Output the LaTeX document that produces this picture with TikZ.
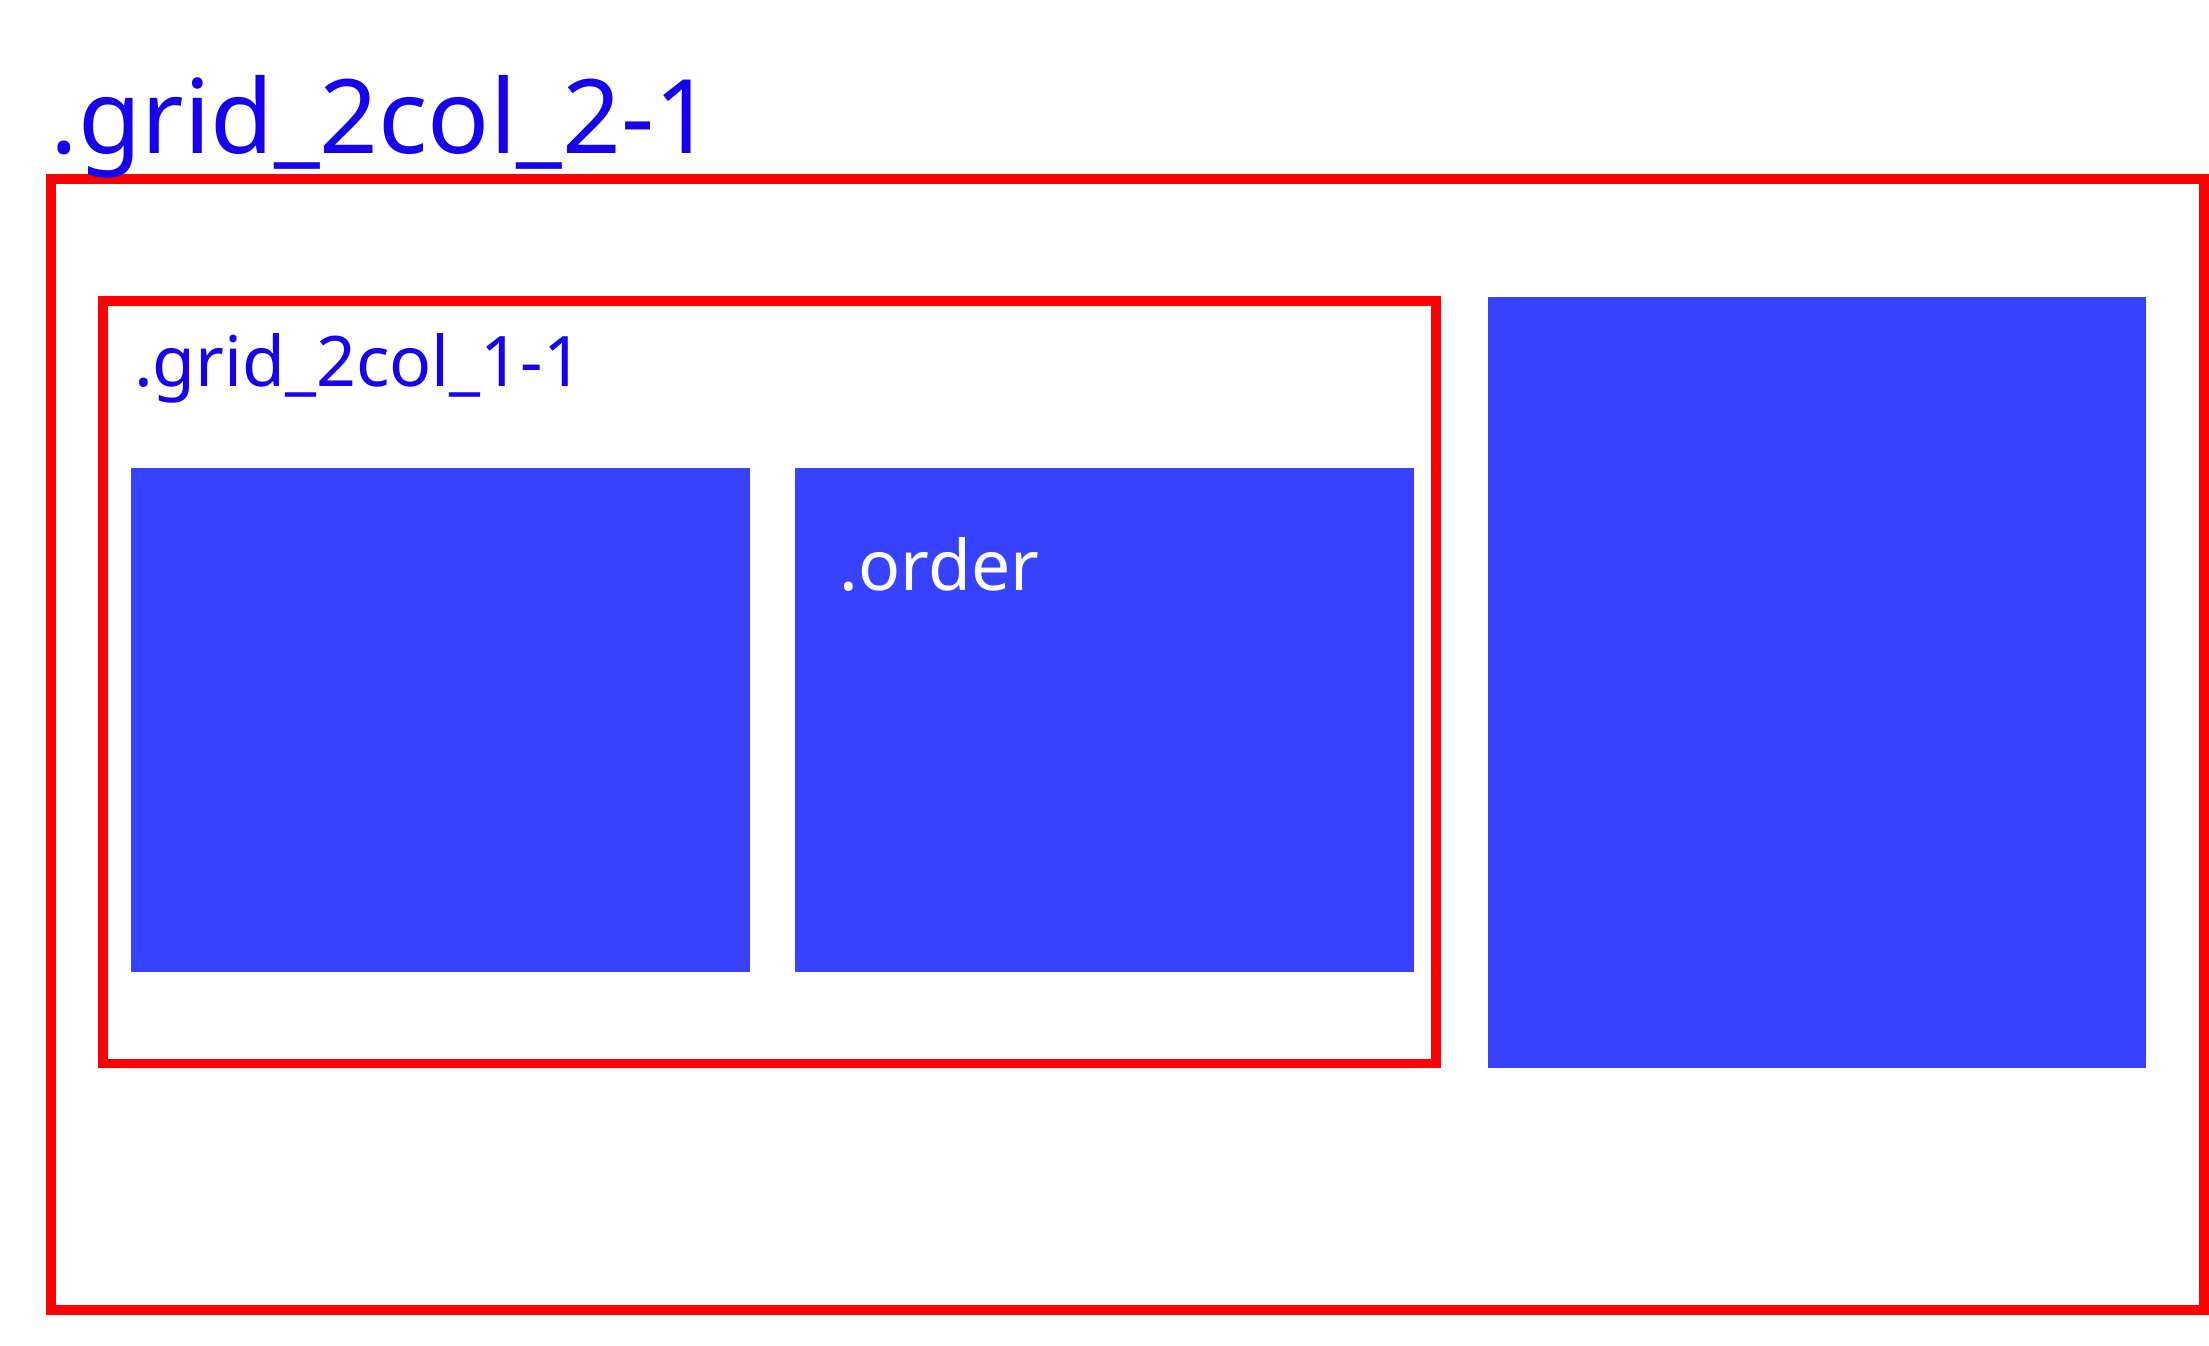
\documentclass[tikz,border=0pt]{standalone}
\usepackage{fontspec}
\setmainfont{Noto Sans}
\usepackage{tikz}
\usetikzlibrary{positioning}

\definecolor{framered}{RGB}{255,0,0}
\definecolor{cellblue}{RGB}{55,66,255}
\definecolor{labelblue}{RGB}{22,0,238}

\begin{document}
\begin{tikzpicture}[
        x=1pt, y=-1pt,
        frame/.style={rectangle, draw=framered, line width=7pt, inner sep=0pt, outer sep=0pt, anchor=north west},
        cell/.style={rectangle, fill=cellblue, inner sep=0pt, outer sep=0pt, anchor=north west},
        biglabel/.style={text=labelblue, inner sep=0pt, anchor=base west, font=\fontsize{73}{80}\selectfont},
        smalllabel/.style={inner sep=0pt, anchor=base west, font=\fontsize{49.5}{56}\selectfont}
    ]
        \useasboundingbox (0,0) rectangle (1568,955.4);

        % outer grid
        \node[frame, minimum width=1528pt, minimum height=802.6pt] (outer) at (36.3,127.1) {};
        \node[biglabel] (outerlabel) at (36,109) {.grid\_2col\_2-1};

        % inner grid
        \node[frame, minimum width=946.3pt, minimum height=541pt] (inner) at (73.2,213.9) {};
        \node[smalllabel, text=labelblue] (innerlabel) at (95,274.4) {.grid\_2col\_1-1};

        % cells
        \node[cell, minimum width=439.5pt, minimum height=357.7pt] (cellA) at (93,332.3) {};
        \node[cell, minimum width=439.1pt, minimum height=357.7pt] (cellB) at (564.4,332.3) {};
        \node[cell, minimum width=467pt, minimum height=547.5pt] (cellC) at (1056,210.8) {};
        \node[smalllabel, text=white] (orderlabel) at (596,419) {.order};
    \end{tikzpicture}
\end{document}
